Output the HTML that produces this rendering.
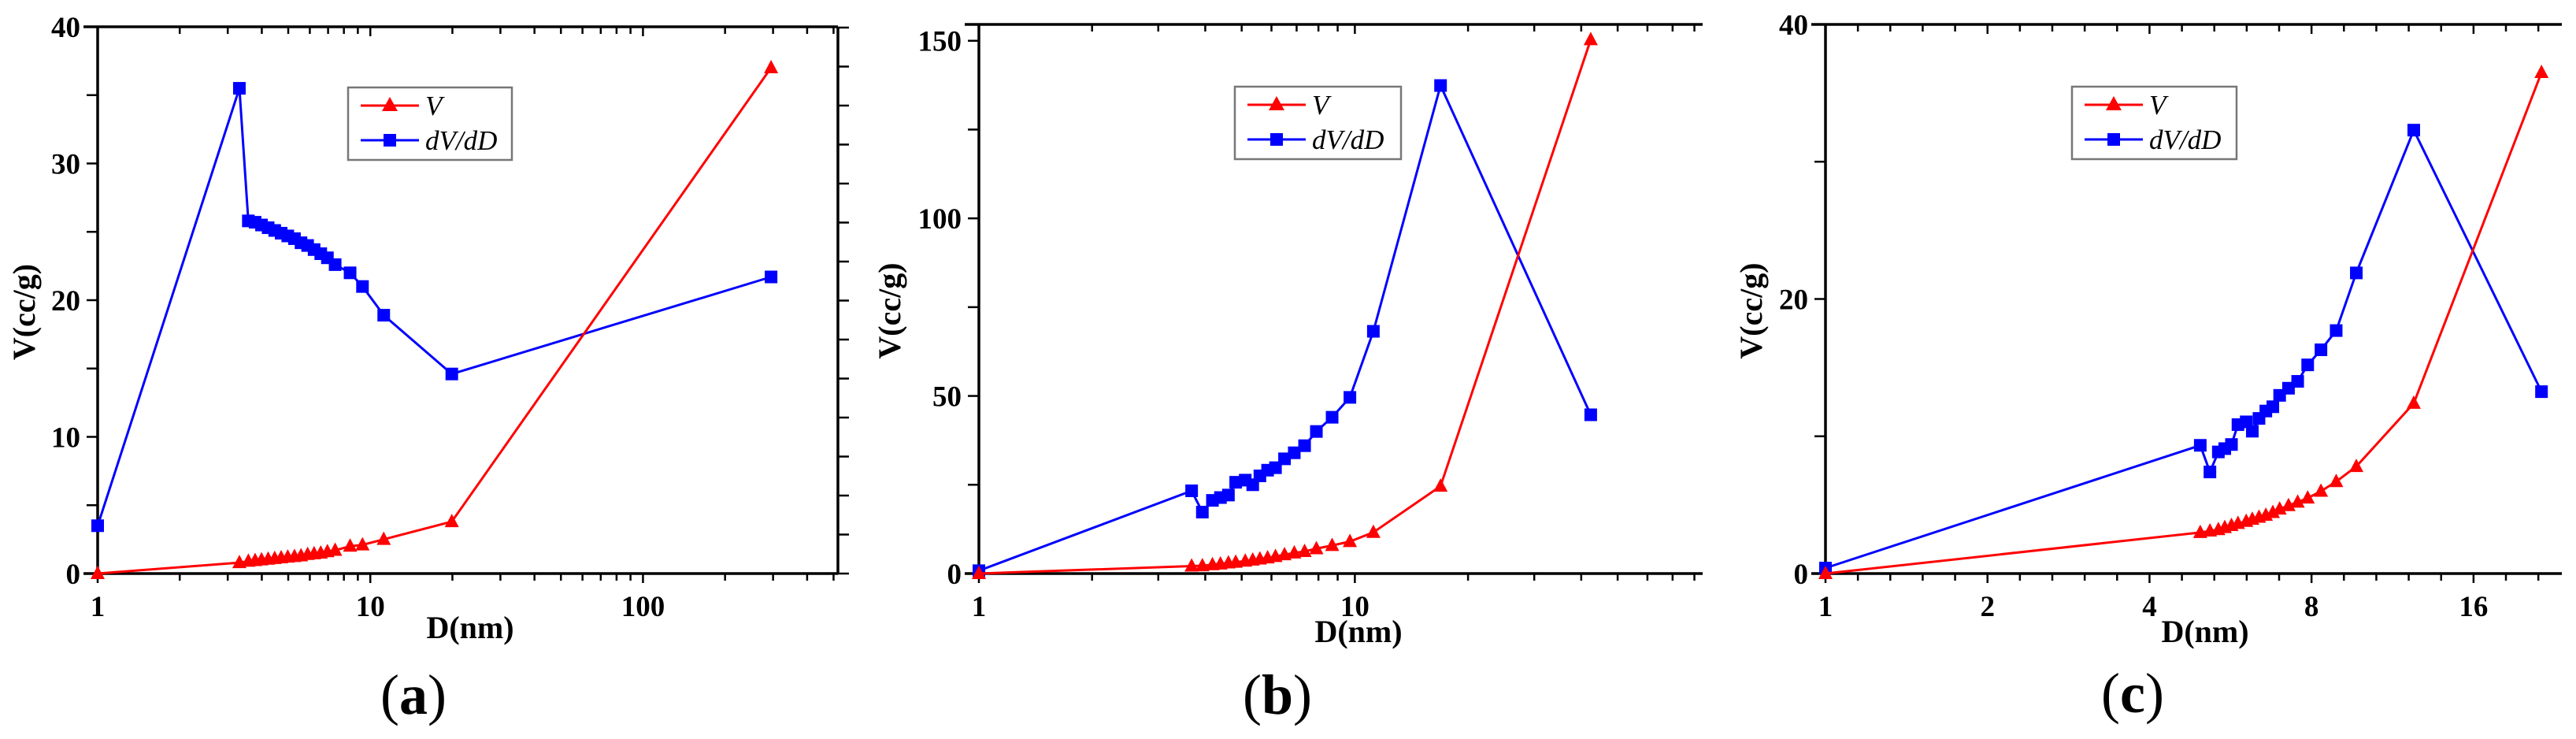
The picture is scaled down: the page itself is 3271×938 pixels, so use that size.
<!DOCTYPE html>
<html><head><meta charset="utf-8">
<style>
html,body{margin:0;padding:0;background:#fff;}
svg{display:block;}
text{font-family:"Liberation Serif",serif;}
</style></head>
<body>
<svg id="fig" width="3271" height="938" viewBox="0 0 3271 938" xmlns="http://www.w3.org/2000/svg"></svg>
<script>
// ---------- Panel (a) data ----------
const aD   = [1, 3.31, 3.57, 3.78, 3.99, 4.22, 4.46, 4.71, 4.98, 5.27, 5.57, 5.89, 6.22, 6.58, 6.96, 7.43, 8.43, 9.36, 11.2, 19.9, 295];
const aV   = [0, 0.8, 0.9, 0.95, 1.0, 1.05, 1.1, 1.15, 1.2, 1.25, 1.3, 1.4, 1.45, 1.5, 1.6, 1.7, 2.0, 2.1, 2.5, 3.8, 37.0];
const aDvD = [3.5, 35.5, 25.8, 25.7, 25.5, 25.3, 25.1, 24.9, 24.7, 24.5, 24.2, 24.0, 23.7, 23.4, 23.1, 22.6, 22.0, 21.0, 18.9, 14.6, 21.7];
const aYTicks = [0, 10, 20, 30, 40];
const aXTicks = [1, 10, 100];

// ---------- Panel (b) data ----------
const bD   = [1, 3.68, 3.93, 4.18, 4.39, 4.61, 4.82, 5.11, 5.35, 5.59, 5.86, 6.15, 6.5, 6.9, 7.35, 7.9, 8.7, 9.7, 11.2, 16.9, 42.4];
const bV   = [0, 2.1, 2.2, 2.5, 2.7, 3.0, 3.2, 3.5, 3.8, 4.1, 4.4, 4.8, 5.3, 5.8, 6.2, 7.0, 7.9, 9.0, 11.6, 24.6, 150.3];
const bDvD = [0.8, 23.3, 17.3, 20.6, 21.4, 22.1, 25.7, 26.3, 25.0, 27.5, 29.1, 29.8, 32.3, 34.0, 36.0, 40.0, 44.0, 49.6, 68.2, 137.4, 44.7];
const bYTicks = [0, 50, 100, 150];
const bXTicks = [1, 10];

// ---------- Panel (c) data ----------
const cD   = [1, 4.97, 5.18, 5.37, 5.52, 5.68, 5.84, 6.05, 6.21, 6.39, 6.58, 6.78, 6.98, 7.25, 7.54, 7.87, 8.33, 8.89, 9.69, 12.39, 21.4];
const cV   = [0, 2.99, 3.1, 3.2, 3.35, 3.5, 3.65, 3.8, 3.95, 4.1, 4.25, 4.45, 4.7, 4.95, 5.2, 5.5, 6.0, 6.7, 7.8, 12.4, 36.5];
const cDvD = [0.4, 9.34, 7.4, 8.86, 9.1, 9.4, 10.85, 11.05, 10.37, 11.3, 11.84, 12.15, 12.98, 13.5, 14.0, 15.2, 16.3, 17.7, 21.9, 32.3, 13.25];
const cYTicks = [0, 20, 40];
const cXTicks = [1, 2, 4, 8, 16];

const NS = "http://www.w3.org/2000/svg";
const svg = document.getElementById("fig");
function el(tag, attrs, parent) {
  const e = document.createElementNS(NS, tag);
  for (const k in attrs) e.setAttribute(k, attrs[k]);
  (parent || svg).appendChild(e);
  return e;
}

function panel(cfg) {
  const g = el("g", {});
  
  
  const L = cfg.left, R = cfg.right, T = cfg.top, B = cfg.bottom;
  const lb = cfg.logBase;
  const lg = v => Math.log(v) / Math.log(lb);
  const xs = v => L + (lg(v) - lg(cfg.xmin)) / (lg(cfg.xmax) - lg(cfg.xmin)) * (R - L);
  const ys = v => B - (v - cfg.ymin) / (cfg.ymax - cfg.ymin) * (B - T);

  const axes = el("g", {stroke: "#000", "stroke-width": 3.5, fill: "none"}, g);
  
  
  el("line", {x1: L, y1: T, x2: L, y2: B + 1}, axes);
  el("line", {x1: L - 18, y1: B, x2: R, y2: B}, axes);
  el("line", {x1: L - 18, y1: T, x2: R, y2: T}, axes);
  if (cfg.rightAxis) el("line", {x1: R, y1: T, x2: R, y2: B}, axes);

  const tk = el("g", {stroke: "#000", "stroke-width": 2.5}, g);
  
  
  for (let v = cfg.ymin; v <= cfg.ymax + 1e-9; v += cfg.yMinor) {
    el("line", {x1: L - 14, y1: ys(v), x2: L, y2: ys(v)}, tk);
  }
  cfg.yTicks.forEach(v => {
    const t = el("text", {x: L - 22, y: ys(v) + 13, "text-anchor": "end", "font-size": 37, "font-weight": "bold"}, g);
    
    
    t.textContent = v;
  });
  const e0 = Math.floor(lg(cfg.xmin)), e1 = Math.ceil(lg(cfg.xmax));
  for (let e = e0; e <= e1; e++) {
    const base = Math.pow(lb, e);
    const subs = lb === 10 ? [1,2,3,4,5,6,7,8,9] : [0,0.2,0.4,0.6,0.8].map(f => Math.pow(2, f));
    subs.forEach(s => {
      const v = base * s;
      if (v < cfg.xmin - 1e-9 || v > cfg.xmax + 1e-9) return;
      const x = xs(v);
      const major = s === 1;
      el("line", {x1: x, y1: B, x2: x, y2: B + (major ? 12 : 9)}, tk);
      el("line", {x1: x, y1: T, x2: x, y2: T + (major ? 12 : 9)}, tk);
    });
  }
  cfg.xTicks.forEach(v => {
    const t = el("text", {x: xs(v), y: B + 54, "text-anchor": "middle", "font-size": 37, "font-weight": "bold"}, g);
    
    
    t.textContent = v;
  });
  if (cfg.rightAxis) {
    for (let y = B; y >= T; y -= cfg.rightStep) {
      el("line", {x1: R, y1: y, x2: R + 14, y2: y}, tk);
    }
  }

  const xt = el("text", {x: cfg.xTitleX, y: cfg.xTitleY, "text-anchor": "middle", "font-size": 40, "font-weight": "bold"}, g);
  
  
  xt.textContent = "D(nm)";
  const yt = el("text", {x: 0, y: 0, "text-anchor": "middle", "font-size": 40, "font-weight": "bold",
    transform: `translate(${cfg.yTitleX},${(T + B) / 2 + 15}) rotate(-90)`}, g);
  
  
  yt.textContent = "V(cc/g)";

  function series(D, vals, color, shape, name) {
    const sg = el("g", {}, g);
    
    
    const pts = D.map((d, i) => xs(d).toFixed(1) + "," + ys(vals[i]).toFixed(1)).join(" ");
    el("polyline", {points: pts, fill: "none", stroke: color, "stroke-width": 3}, sg);
    D.forEach((d, i) => {
      const x = xs(d), y = ys(vals[i]);
      let m;
      if (shape === "sq") m = el("rect", {x: x - 8, y: y - 8, width: 16, height: 16, fill: color}, sg);
      else m = el("polygon", {points: `${x},${y - 10} ${x - 9},${y + 7} ${x + 9},${y + 7}`, fill: color}, sg);
      
      
    });
  }
  series(cfg.D, cfg.dvd, "#0000ff", "sq", "dvdd-series");
  series(cfg.D, cfg.V, "#ff0000", "tri", "v-series");

  const lgp = el("g", {}, g);
  
  
  const lx = cfg.legX, ly = cfg.legY;
  el("rect", {x: lx, y: ly, width: cfg.legW, height: 92, fill: "#fff", stroke: "#777", "stroke-width": 2.5}, lgp);
  const rows = [["#ff0000", "tri", "V"], ["#0000ff", "sq", "dV/dD"]];
  rows.forEach((r, i) => {
    const y = ly + 23 + i * 44;
    const e = el("g", {}, lgp);
    
    
    el("line", {x1: lx + 16, y1: y, x2: lx + 90, y2: y, stroke: r[0], "stroke-width": 3}, e);
    const cx = lx + 53;
    if (r[1] === "sq") el("rect", {x: cx - 8, y: y - 8, width: 16, height: 16, fill: r[0]}, e);
    else el("polygon", {points: `${cx},${y - 11} ${cx - 10},${y + 7} ${cx + 10},${y + 7}`, fill: r[0]}, e);
    const t = el("text", {x: lx + 98, y: y + 12, "font-size": 35, "font-style": "italic"}, e);
    t.textContent = r[2];
  });

  const cap = el("text", {x: cfg.capX, y: cfg.capY, "text-anchor": "middle", "font-size": 72}, g);
  
  
  const p1 = el("tspan", {}, cap); p1.textContent = "(";
  const p2 = el("tspan", {"font-weight": "bold"}, cap); p2.textContent = cfg.id;
  const p3 = el("tspan", {}, cap); p3.textContent = ")";
}

panel({id: "a", left: 124, right: 1064, top: 34, bottom: 728, logBase: 10, xmin: 1, xmax: Math.pow(10, 2.715),
  ymin: 0, ymax: 40, yMinor: 5, yTicks: aYTicks, xTicks: aXTicks, D: aD, V: aV, dvd: aDvD, rightAxis: true, rightStep: 49.5,
  xTitleX: 597, xTitleY: 810, yTitleX: 44, legX: 442, legY: 111, legW: 208, capX: 525, capY: 906});
panel({id: "b", left: 1243, right: 2162, top: 31, bottom: 728, logBase: 10, xmin: 1, xmax: Math.pow(10, 1.925),
  ymin: 0, ymax: 154.6, yMinor: 25, yTicks: bYTicks, xTicks: bXTicks, D: bD, V: bV, dvd: bDvD, rightAxis: false,
  xTitleX: 1725, xTitleY: 815, yTitleX: 1143, legX: 1568, legY: 110, legW: 211, capX: 1622, capY: 906});
panel({id: "c", left: 2318, right: 3253, top: 31, bottom: 728, logBase: 2, xmin: 1, xmax: Math.pow(2, 4.545),
  ymin: 0, ymax: 40, yMinor: 10, yTicks: cYTicks, xTicks: cXTicks, D: cD, V: cV, dvd: cDvD, rightAxis: false,
  xTitleX: 2800, xTitleY: 815, yTitleX: 2237, legX: 2631, legY: 110, legW: 209, capX: 2708, capY: 904});
</script>
</body></html>
